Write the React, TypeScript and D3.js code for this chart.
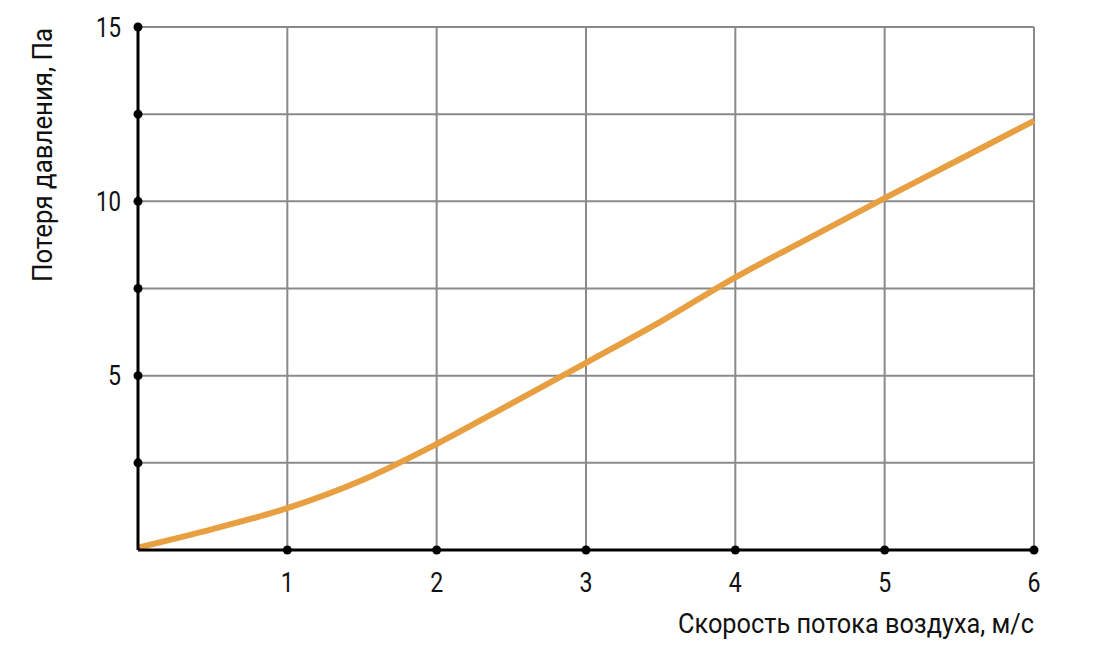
import React from 'react';
import * as d3 from 'd3';

// скорость потока, м/с
const speed = [0, 0.5, 1, 1.5, 2, 2.5, 3, 3.5, 4, 4.5, 5, 5.5, 6];
// потеря давления, Па
const pressure = [0.07, 0.6, 1.2, 2.0, 3.04, 4.2, 5.37, 6.55, 7.82, 8.96, 10.09, 11.2, 12.31];

const xTicks = [1, 2, 3, 4, 5, 6];
const yTicks = [2.5, 5, 7.5, 10, 12.5, 15];
const yLabels = [5, 10, 15];

const xTitle = 'Скорость потока воздуха, м/с';
const yTitle = 'Потеря давления, Па';

const width = 1103;
const height = 662;

const App: React.FC = () => {
  const svgRef = React.useRef<SVGSVGElement>(null);

  React.useEffect(() => {
    if (!svgRef.current) return;
    const svg = d3.select(svgRef.current);
    svg.selectAll('*').remove();

    const margin = { top: 27, right: 69, bottom: 112, left: 138 };
    const w = width - margin.left - margin.right;
    const h = height - margin.top - margin.bottom;
    const font = 'Roboto, "DejaVu Sans", sans-serif';

    const g = svg.append('g').attr('transform', `translate(${margin.left},${margin.top})`);

    const x = d3.scaleLinear().domain([0, 6]).range([0, w]);
    const y = d3.scaleLinear().domain([0, 15]).range([h, 0]);

    // сетка
    g.selectAll('.hgrid')
      .data(yTicks)
      .enter().append('line')
      .attr('x1', 0).attr('x2', w)
      .attr('y1', d => y(d)).attr('y2', d => y(d))
      .attr('stroke', '#8a8a8a').attr('stroke-width', 2);

    g.selectAll('.vgrid')
      .data(xTicks)
      .enter().append('line')
      .attr('x1', d => x(d)).attr('x2', d => x(d))
      .attr('y1', 0).attr('y2', h)
      .attr('stroke', '#8a8a8a').attr('stroke-width', 2);

    // кривая
    const line = d3.line<number>()
      .x((_, i) => x(speed[i]))
      .y(d => y(d))
      .curve(d3.curveCatmullRom.alpha(0.5));

    g.append('path')
      .datum(pressure)
      .attr('d', line)
      .attr('fill', 'none')
      .attr('stroke', '#e89f42')
      .attr('stroke-width', 6);

    // оси
    g.append('line')
      .attr('x1', 0).attr('x2', 0).attr('y1', 0).attr('y2', h)
      .attr('stroke', '#000').attr('stroke-width', 3);
    g.append('line')
      .attr('x1', 0).attr('x2', w).attr('y1', h).attr('y2', h)
      .attr('stroke', '#000').attr('stroke-width', 3);

    g.selectAll('.ydot')
      .data(yTicks)
      .enter().append('circle')
      .attr('cx', 0).attr('cy', d => y(d)).attr('r', 4.5)
      .attr('fill', '#000');

    g.selectAll('.xdot')
      .data(xTicks)
      .enter().append('circle')
      .attr('cx', d => x(d)).attr('cy', h).attr('r', 4.5)
      .attr('fill', '#000');

    // подписи
    g.selectAll('.ylabel')
      .data(yLabels)
      .enter().append('text')
      .attr('x', -17).attr('y', d => y(d))
      .attr('dy', '0.36em')
      .attr('text-anchor', 'end')
      .attr('font-family', font)
      .attr('font-size', 27)
      .attr('fill', '#111')
      .attr('textLength', d => (d >= 10 ? 25 : 13))
      .attr('lengthAdjust', 'spacingAndGlyphs')
      .text(d => d);

    g.selectAll('.xlabel')
      .data(xTicks)
      .enter().append('text')
      .attr('x', d => x(d)).attr('y', h + 42)
      .attr('text-anchor', 'middle')
      .attr('font-family', font)
      .attr('font-size', 27)
      .attr('fill', '#111')
      .attr('textLength', 13)
      .attr('lengthAdjust', 'spacingAndGlyphs')
      .text(d => d);

    g.append('text')
      .attr('x', w).attr('y', h + 83)
      .attr('text-anchor', 'end')
      .attr('font-family', font)
      .attr('font-size', 27)
      .attr('fill', '#111')
      .attr('textLength', 356)
      .attr('lengthAdjust', 'spacingAndGlyphs')
      .text(xTitle);

    g.append('text')
      .attr('transform', `translate(${-86},${128}) rotate(-90)`)
      .attr('text-anchor', 'middle')
      .attr('font-family', font)
      .attr('font-size', 27)
      .attr('fill', '#111')
      .attr('textLength', 254)
      .attr('lengthAdjust', 'spacingAndGlyphs')
      .text(yTitle);
  }, []);

  return (
    <svg
      ref={svgRef}
      width={width}
      height={height}
      style={{ position: 'absolute', left: 0, top: 0, background: '#fff' }}
    />
  );
};

export default App;
